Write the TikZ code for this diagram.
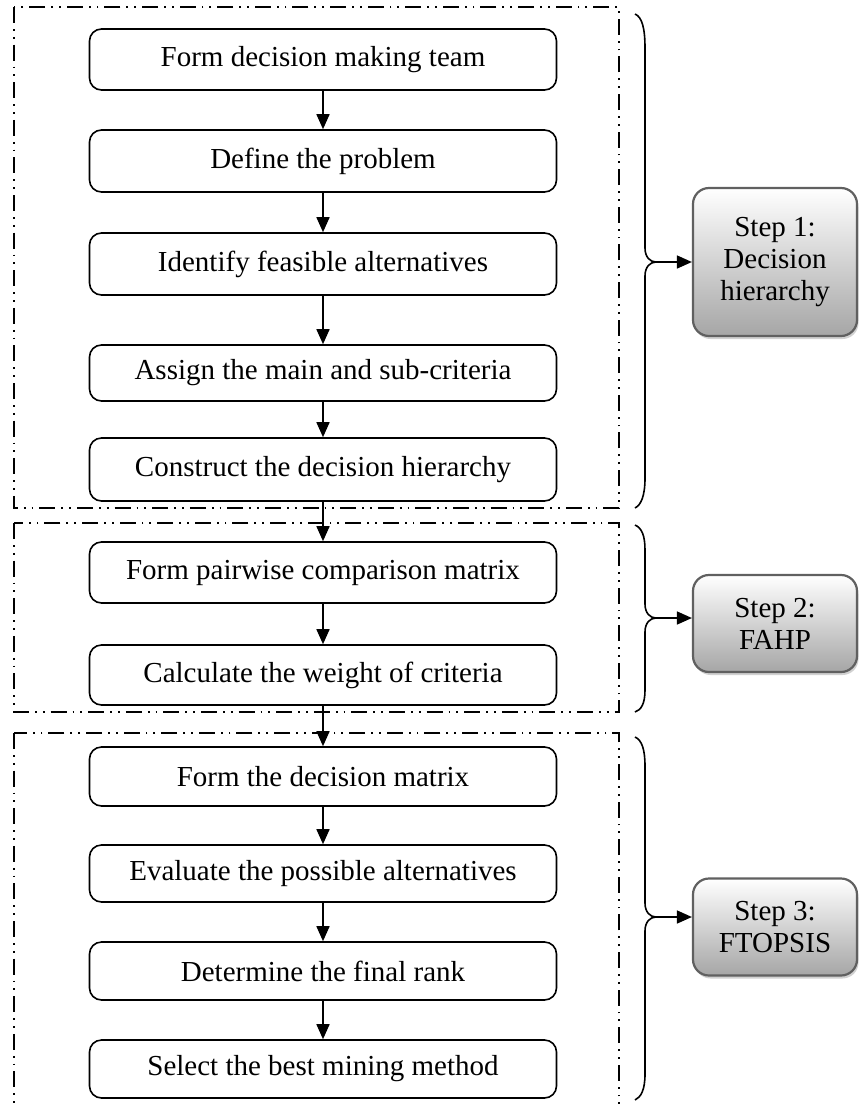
\documentclass[tikz,border=0pt]{standalone}
\usepackage{fontspec}
\setmainfont{Liberation Serif}
\usetikzlibrary{arrows.meta,shadows}
\begin{document}
\begin{tikzpicture}[x=1pt,y=-1pt,
  procbox/.style={draw=black,line width=1.6pt,rounded corners=12pt,minimum width=467pt,inner sep=0pt,font=\fontsize{29}{32}\selectfont,fill=white},
  stepbox/.style={draw=gray!75!black,line width=2.2pt,rounded corners=16pt,minimum width=164pt,inner sep=0pt,align=center,font=\fontsize{29}{32}\selectfont,top color=white,bottom color=gray!70,drop shadow={shadow xshift=1.5pt,shadow yshift=-3pt,fill=gray!45,opacity=0.8}},
  flow/.style={line width=1.6pt,-{Triangle[length=15pt,width=13pt]}},
  groupbox/.style={line width=1.8pt,dash pattern=on 16pt off 6pt on 1.8pt off 6pt on 1.8pt off 6pt},
  bracel/.style={line width=1.6pt}]
\useasboundingbox (0,0) rectangle (860,1104);
% process boxes
\node[procbox,minimum height=61pt] (b1) at (323,59.5) {Form decision making team};
\node[procbox,minimum height=62pt] (b2) at (323,161) {Define the problem};
\node[procbox,minimum height=62pt] (b3) at (323,264) {Identify feasible alternatives};
\node[procbox,minimum height=56pt] (b4) at (323,373) {Assign the main and sub-criteria};
\node[procbox,minimum height=63pt] (b5) at (323,469.5) {Construct the decision hierarchy};
\node[procbox,minimum height=61pt] (b6) at (323,572.5) {Form pairwise comparison matrix};
\node[procbox,minimum height=60pt] (b7) at (323,675) {Calculate the weight of criteria};
\node[procbox,minimum height=59pt] (b8) at (323,776.5) {Form the decision matrix};
\node[procbox,minimum height=57pt] (b9) at (323,873.5) {Evaluate the possible alternatives};
\node[procbox,minimum height=58pt] (b10) at (323,971) {Determine the final rank};
\node[procbox,minimum height=58pt] (b11) at (323,1069) {Select the best mining method};
% group boxes
\draw[groupbox] (14,7) rectangle (619,508);
\draw[groupbox] (14,523) rectangle (619,712);
\draw[groupbox] (14,733) rectangle (619,1112);
% flow arrows
\foreach \a/\b in {b1/b2,b2/b3,b3/b4,b4/b5,b5/b6,b6/b7,b7/b8,b8/b9,b9/b10,b10/b11}
  \draw[flow] (\a.south) -- (\b.north);
% step boxes
\node[stepbox,minimum height=148pt] (s1) at (775,262) {Step 1:\\Decision\\hierarchy};
\node[stepbox,minimum height=97pt] (s2) at (775,623.5) {Step 2:\\FAHP};
\node[stepbox,minimum height=97pt] (s3) at (775,927) {Step 3:\\FTOPSIS};
% braces
\coordinate (t1) at (656,262);
\coordinate (t2) at (656,618);
\coordinate (t3) at (656,917);
\draw[bracel] (635,14) .. controls (642,17) and (645,28) .. (645,48) -- (645,248)
  .. controls (645,257) and (650,262) .. (t1)
  .. controls (650,262) and (645,267) .. (645,276) -- (645,478)
  .. controls (645,496) and (641,505) .. (635,508);
\draw[bracel] (635,525) .. controls (642,528) and (645,536) .. (645,550) -- (645,604)
  .. controls (645,613) and (650,618) .. (t2)
  .. controls (650,618) and (645,623) .. (645,632) -- (645,690)
  .. controls (645,704) and (641,710) .. (635,712);
\draw[bracel] (635,737) .. controls (642,740) and (645,750) .. (645,766) -- (645,903)
  .. controls (645,912) and (650,917) .. (t3)
  .. controls (650,917) and (645,922) .. (645,931) -- (645,1074)
  .. controls (645,1090) and (641,1097) .. (635,1100);
\draw[flow] (t1) -- (t1 -| s1.west);
\draw[flow] (t2) -- (t2 -| s2.west);
\draw[flow] (t3) -- (t3 -| s3.west);
\end{tikzpicture}
\end{document}
